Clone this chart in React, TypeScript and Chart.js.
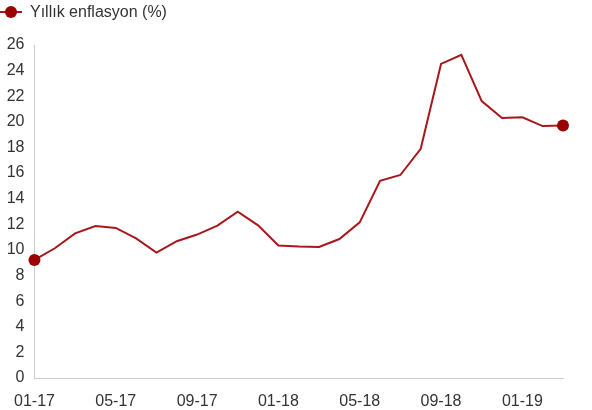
import React, { useEffect, useRef } from "react";
import { Chart, registerables } from "chart.js";

Chart.register(...registerables);

const categories = [
  "01-17", "02-17", "03-17", "04-17", "05-17", "06-17", "07-17", "08-17", "09-17", "10-17", "11-17", "12-17",
  "01-18", "02-18", "03-18", "04-18", "05-18", "06-18", "07-18", "08-18", "09-18", "10-18", "11-18", "12-18",
  "01-19", "02-19", "03-19",
];
const inflation = [
  9.22, 10.13, 11.29, 11.87, 11.72, 10.9, 9.79, 10.68, 11.2, 11.9, 12.98, 11.92,
  10.35, 10.26, 10.23, 10.85, 12.15, 15.39, 15.85, 17.9, 24.52, 25.24, 21.62, 20.3,
  20.35, 19.67, 19.71,
];
const seriesLabel = "Yıllık enflasyon (%)";
const lineColor = "#a8171b";
const markerColor = "#9b0000";
const fontFamily = "'Liberation Sans', Arial, sans-serif";

const legendPlugin = {
  id: "customLegend",
  afterDraw(chart: any) {
    const ctx = chart.ctx;
    ctx.save();
    ctx.strokeStyle = lineColor;
    ctx.lineWidth = 2;
    ctx.beginPath();
    ctx.moveTo(0, 12);
    ctx.lineTo(22, 12);
    ctx.stroke();
    ctx.fillStyle = markerColor;
    ctx.beginPath();
    ctx.arc(11, 12, 6, 0, Math.PI * 2);
    ctx.fill();
    ctx.fillStyle = "#333";
    ctx.font = `16px ${fontFamily}`;
    ctx.textBaseline = "middle";
    ctx.textAlign = "left";
    ctx.fillText(seriesLabel, 30, 13);
    ctx.restore();
  },
};

export default function App() {
  const ref = useRef<HTMLCanvasElement>(null);
  useEffect(() => {
    document.body.style.margin = "0";
    const n = inflation.length;
    const radii = inflation.map((_, i) => (i === 0 || i === n - 1 ? 6 : 0));
    const chart = new Chart(ref.current!, {
      type: "line",
      data: {
        labels: categories,
        datasets: [
          {
            label: seriesLabel,
            data: inflation,
            borderColor: lineColor,
            borderWidth: 2,
            pointRadius: radii,
            pointHoverRadius: radii,
            pointBackgroundColor: markerColor,
            pointBorderColor: markerColor,
            pointBorderWidth: 0,
            tension: 0,
            clip: false as any,
          },
        ],
      },
      options: {
        responsive: false,
        animation: false,
        layout: { padding: { top: 45, right: 29, left: 0, bottom: 0 } },
        plugins: { legend: { display: false }, tooltip: { enabled: false } },
        scales: {
          x: {
            type: "category",
            offset: false,
            grid: { display: false, drawTicks: false },
            border: { color: "#cccccc", width: 1 },
            ticks: {
              autoSkip: false,
              maxRotation: 0,
              minRotation: 0,
              padding: 14,
              color: "#333",
              font: { family: fontFamily, size: 16 },
              callback: (_v: any, i: number) => (i % 4 === 0 ? categories[i] : ""),
            },
            afterFit: (s: any) => {
              s.height = 32;
            },
          },
          y: {
            min: 0,
            max: 26,
            grid: { display: false, drawTicks: false },
            border: { color: "#cccccc", width: 1 },
            ticks: {
              stepSize: 2,
              padding: 10,
              color: "#333",
              font: { family: fontFamily, size: 16 },
            },
            afterFit: (s: any) => {
              s.width = 34;
            },
          },
        },
      },
      plugins: [legendPlugin],
    });
    return () => chart.destroy();
  }, []);
  return <canvas ref={ref} width={592} height={410} style={{ display: "block" }} />;
}
